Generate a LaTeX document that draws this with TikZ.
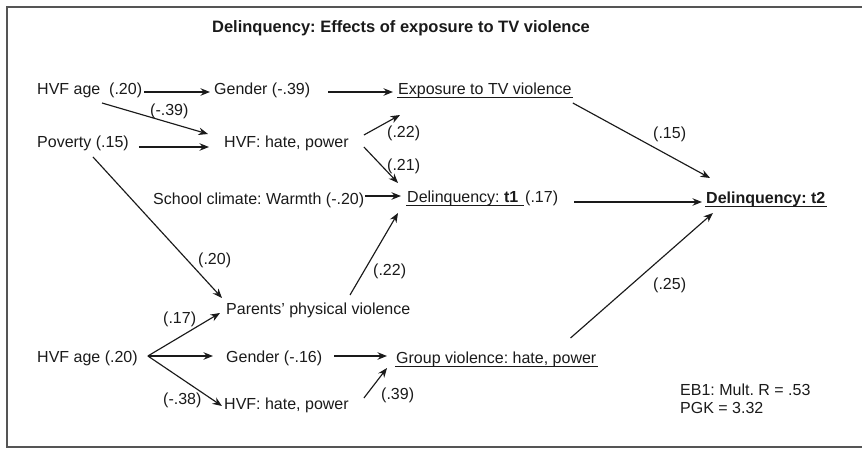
\documentclass[tikz,border=0pt]{standalone}
\usepackage{fontspec}
\setmainfont{Liberation Sans}
\usetikzlibrary{arrows.meta}
\definecolor{ink}{HTML}{1A1A1A}
\definecolor{framecol}{HTML}{555555}
\frenchspacing
\begin{document}
\frenchspacing
\begin{tikzpicture}[x=1pt,y=-1pt,
  font=\fontsize{16}{19}\selectfont\frenchspacing,
  lbl/.style={anchor=base west, inner sep=1pt, text=ink},
  arr/.style={draw=ink, line width=1.15pt, -{Stealth[length=9.5pt,width=7.5pt]}},
  uline/.style={draw=ink, line width=1pt},
  frameline/.style={draw=framecol, line width=1.5pt}]
\useasboundingbox (0,0) rectangle (862,449);
% frame
\draw[frameline] (862,7) -- (7,7) -- (7,447) -- (862,447);
% title
\node[anchor=base, inner sep=1pt, text=ink, font=\fontsize{16.5}{19}\selectfont\bfseries\frenchspacing] (title) at (401,33) {Delinquency: Effects of exposure to TV violence};
% top block
\node[lbl] (a1) at (36,95) {HVF age\ \ (.20)};
\node[lbl] (g1) at (213,95) {Gender (-.39)};
\node[lbl] (exp) at (397,95) {Exposure to TV violence};
\node[lbl] (c39) at (149,116) {(-.39)};
\node[lbl] (pov) at (36,148) {Poverty (.15)};
\node[lbl] (h1) at (223,148) {HVF: hate, power};
\node[lbl] (c22a) at (386,138) {(.22)};
\node[lbl] (c21) at (386,171) {(.21)};
\node[lbl] (sch) at (152,205) {School climate: Warmth (-.20)};
\node[lbl] (t1) at (406,203) {Delinquency: \textbf{t1}};
\node[lbl] (c17t) at (524,203) {(.17)};
\node[lbl] (t2) at (705,204) {\textbf{Delinquency: t2}};
\node[lbl] (c15) at (652,139) {(.15)};
% bottom block
\node[lbl] (c20) at (197,265) {(.20)};
\node[lbl] (c22b) at (372,276) {(.22)};
\node[lbl] (par) at (225,314) {Parents' physical violence};
\node[lbl] (c17) at (162,323) {(.17)};
\node[lbl] (a2) at (36,362) {HVF age (.20)};
\node[lbl] (g2) at (225,362) {Gender (-.16)};
\node[lbl] (grp) at (395,363) {Group violence: hate, power};
\node[lbl] (c38) at (162,404) {(-.38)};
\node[lbl] (h2) at (223,409) {HVF: hate, power};
\node[lbl] (c39b) at (380,399) {(.39)};
\node[lbl] (c25) at (652,289) {(.25)};
\node[lbl] (eb) at (679,395) {EB1: Mult. R = .53};
\node[lbl] (pgk) at (679,413) {PGK = 3.32};
% underlines
\draw[uline] ([yshift=-3pt]exp.base west) -- ([yshift=-3pt]exp.base east);
\draw[uline] ([yshift=-3pt]t1.base west) -- ([yshift=-3pt]c17t.base west);
\draw[uline] ([yshift=-3pt]t2.base west) -- ([yshift=-3pt]t2.base east);
\draw[uline] ([yshift=-3pt]grp.base west) -- ([yshift=-3pt]grp.base east);
% connectors, top
\draw[arr] ([xshift=1pt,yshift=3pt]a1.base east) -- ([xshift=-3pt,yshift=3pt]g1.base west);
\draw[arr] ([xshift=17pt,yshift=3pt]g1.base east) -- ([xshift=-4pt,yshift=3pt]exp.base west);
\draw[arr] ([xshift=66pt,yshift=-8pt]a1.base west) -- ([xshift=-15pt,yshift=14pt]h1.base west);
\draw[arr] ([xshift=9pt,yshift=1pt]pov.base east) -- ([xshift=-14pt,yshift=1pt]h1.base west);
\draw[arr] ([xshift=14pt,yshift=13pt]h1.base east) -- ([xshift=3pt,yshift=-20pt]exp.base west);
\draw[arr] ([xshift=14pt,yshift=1pt]h1.base east) -- ([xshift=-8pt,yshift=20pt]t1.base west);
\draw[arr] ([yshift=9pt]sch.base east) -- ([xshift=-5pt,yshift=7pt]t1.base west);
\draw[arr] ([xshift=15pt,yshift=1pt]c17t.base east) -- ([xshift=-3pt,yshift=2pt]t2.base west);
\draw[arr] ([yshift=-8pt]exp.base east) -- ([xshift=5pt,yshift=26pt]t2.base west);
% connectors, bottom
\draw[arr] ([xshift=57pt,yshift=-9pt]pov.base west) -- ([xshift=-3pt,yshift=16pt]par.base west);
\draw[arr] ([xshift=125pt,yshift=19pt]par.base west) -- ([xshift=-8pt,yshift=-10pt]t1.base west);
\coordinate (fan) at ([xshift=9pt,yshift=6pt]a2.base east);
\draw[arr] (fan) -- ([xshift=-5pt,yshift=1pt]par.base west);
\draw[arr] (fan) -- ([xshift=-12pt,yshift=6pt]g2.base west);
\draw[arr] (fan) -- ([xshift=-1pt,yshift=3pt]h2.base west);
\draw[arr] ([xshift=11pt,yshift=6pt]g2.base east) -- ([xshift=-8pt,yshift=7pt]grp.base west);
\draw[arr] ([xshift=14pt,yshift=11pt]h2.base east) -- ([xshift=-8pt,yshift=-5pt]grp.base west);
\draw[arr] ([xshift=-27pt,yshift=25pt]grp.base east) -- ([xshift=8pt,yshift=-9pt]t2.base west);
\end{tikzpicture}
\end{document}
